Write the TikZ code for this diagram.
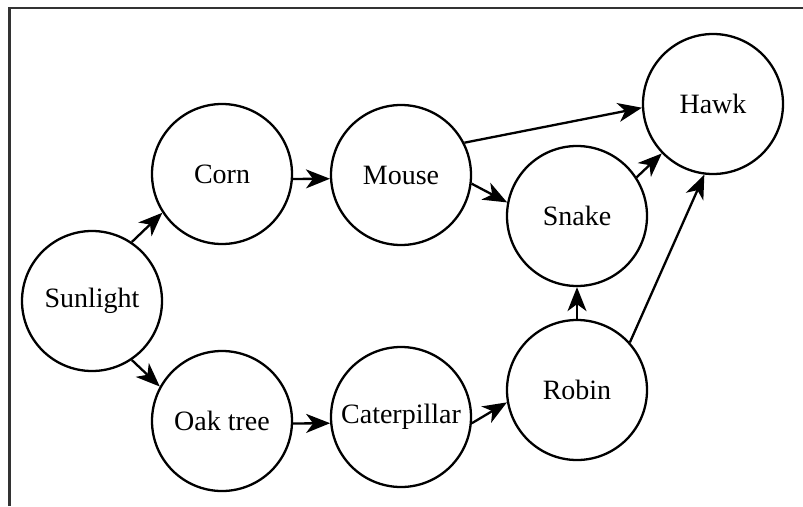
\documentclass[tikz,border=0pt]{standalone}
\usepackage{fontspec}
\setmainfont{Liberation Serif}
\usetikzlibrary{arrows.meta}
\begin{document}
\begin{tikzpicture}[x=1pt,y=-1pt,
  organism/.style={draw, line width=2.3pt, circle, minimum size=140pt, inner sep=0pt, font=\fontsize{28}{30}\selectfont},
  feeds/.style={line width=2.3pt, -{Stealth[length=24pt,width=19pt,inset=7pt]}}]
\useasboundingbox (0,0) rectangle (803,506);
\draw[line width=2.6pt, color=black!80] (9.5,506) -- (9.5,8) -- (803,8);
\node[organism] (sun) at (92,301) {Sunlight};
\node[organism] (corn) at (222,174) {Corn};
\node[organism] (oak) at (222,421) {Oak tree};
\node[organism] (mouse) at (401,175) {Mouse};
\node[organism] (cat) at (401,417) {Caterpillar};
\node[organism] (snake) at (577,216) {Snake};
\node[organism] (robin) at (577,390) {Robin};
\node[organism] (hawk) at (713,104) {Hawk};
\draw[feeds] (sun.56) -- (corn.213);
\draw[feeds] (sun.-56) -- (oak.151);
\draw[feeds] (corn.-4) -- (mouse.183);
\draw[feeds] (oak.-2.5) -- (cat.185);
\draw[feeds] (mouse.27) -- (hawk.183);
\draw[feeds] (mouse.-7) -- (snake.169);
\draw[feeds] (cat.-5) -- (robin.190);
\draw[feeds] (robin.north) -- (snake.south);
\draw[feeds] (snake.33) -- (hawk.224);
\draw[feeds] (robin.42) -- (hawk.263);
\end{tikzpicture}
\end{document}
